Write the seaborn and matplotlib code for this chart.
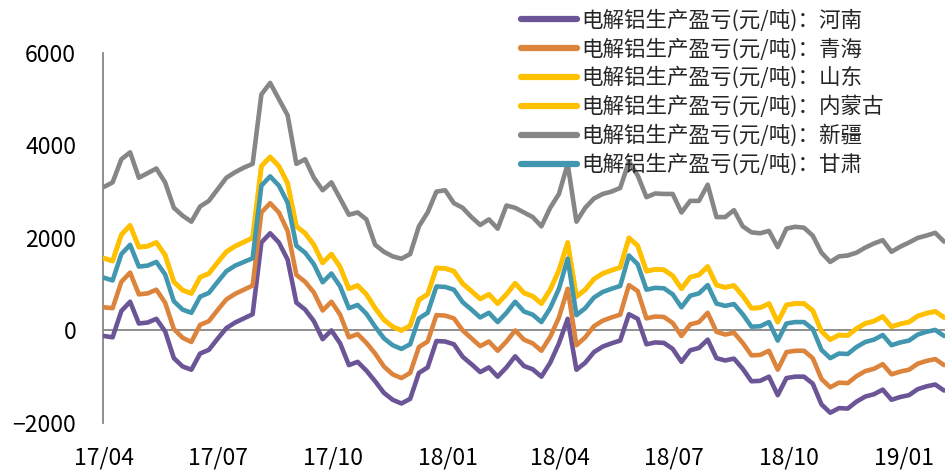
import pandas as pd
import matplotlib
matplotlib.use('Agg')
import matplotlib.pyplot as plt
import matplotlib.dates as mdates
import seaborn as sns

# weekly readings, starting 2017-04-01
start_date = '2017-04-01'

henan = [-120, -150, 420, 620, 150, 170, 250, -20, -600, -780,
         -850, -500, -420, -180, 50, 170, 260, 350, 1900, 2100,
         1900, 1530, 600, 450, 200, -190, 0, -280, -750, -680,
         -870, -1100, -1350, -1500, -1580, -1480, -920, -800, -230, -240,
         -300, -570, -730, -900, -800, -1000, -800, -560, -770, -840,
         -1000, -700, -280, 250, -850, -700, -470, -350, -280, -220,
         350, 250, -300, -260, -270, -400, -680, -430, -380, -200,
         -600, -650, -610, -830, -1100, -1090, -1000, -1400, -1030, -1000,
         -1000, -1150, -1600, -1780, -1680, -1690, -1540, -1430, -1380, -1280,
         -1500, -1440, -1400, -1270, -1210, -1170, -1300]

qinghai = [500, 480, 1050, 1250, 780, 800, 880, 600, 30, -160,
           -250, 120, 200, 440, 670, 790, 880, 970, 2550, 2750,
           2550, 2150, 1200, 1050, 820, 430, 620, 340, -150, -80,
           -270, -500, -780, -950, -1030, -920, -360, -240, 330, 320,
           260, 0, -170, -340, -240, -440, -240, 0, -200, -280,
           -440, -140, 280, 900, -320, -150, 90, 210, 280, 340,
           980, 850, 260, 300, 290, 160, -120, 130, 180, 380,
           -30, -90, -50, -270, -540, -530, -440, -850, -470, -440,
           -440, -600, -1050, -1230, -1130, -1140, -990, -880, -830, -730,
           -950, -890, -850, -720, -660, -620, -750]

shandong = [1560, 1500, 2070, 2270, 1800, 1820, 1900, 1630, 1050, 870,
            800, 1150, 1230, 1470, 1700, 1820, 1910, 2000, 3550, 3750,
            3550, 3180, 2250, 2100, 1850, 1460, 1650, 1370, 900, 970,
            780, 480, 230, 80, 0, 100, 660, 780, 1350, 1340,
            1280, 1010, 850, 680, 780, 580, 780, 1020, 810, 740,
            580, 880, 1300, 1900, 730, 880, 1110, 1230, 1300, 1360,
            2000, 1830, 1280, 1320, 1310, 1180, 900, 1150, 1200, 1380,
            980, 930, 970, 750, 480, 490, 580, 180, 550, 580,
            580, 430, -20, -200, -100, -110, 40, 150, 200, 300,
            80, 140, 180, 310, 370, 410, 280]

# 内蒙古 sits exactly under 山东 in the chart (same colour, same path)
neimenggu = list(shandong)

xinjiang = [3100, 3200, 3700, 3850, 3300, 3400, 3500, 3200, 2650, 2480,
            2350, 2680, 2800, 3050, 3300, 3420, 3520, 3600, 5100, 5350,
            5000, 4650, 3600, 3700, 3300, 3030, 3200, 2850, 2500, 2550,
            2400, 1850, 1700, 1600, 1550, 1650, 2250, 2550, 3000, 3030,
            2750, 2650, 2450, 2280, 2400, 2200, 2700, 2650, 2550, 2450,
            2250, 2650, 2950, 3600, 2350, 2650, 2850, 2950, 3000, 3080,
            3650, 3350, 2880, 2960, 2950, 2950, 2550, 2800, 2800, 3150,
            2450, 2450, 2600, 2250, 2120, 2100, 2150, 1800, 2200, 2240,
            2220, 2050, 1680, 1480, 1600, 1620, 1680, 1790, 1880, 1950,
            1700, 1810, 1900, 2000, 2050, 2110, 1920]

gansu = [1140, 1080, 1650, 1850, 1380, 1400, 1480, 1210, 630, 450,
         380, 730, 810, 1050, 1280, 1400, 1480, 1560, 3130, 3330,
         3130, 2760, 1830, 1680, 1430, 1040, 1230, 950, 480, 550,
         360, 80, -170, -320, -400, -300, 260, 380, 950, 940,
         880, 610, 450, 280, 380, 180, 380, 620, 410, 340,
         180, 480, 900, 1550, 330, 480, 710, 830, 900, 960,
         1620, 1430, 880, 920, 910, 780, 500, 750, 800, 980,
         580, 530, 570, 350, 80, 90, 180, -220, 150, 180,
         180, 30, -420, -600, -500, -510, -360, -250, -200, -100,
         -320, -260, -220, -90, -30, 10, -120]

prefix = '电解铝生产盈亏(元/吨)：'
regions = ['河南', '青海', '山东', '内蒙古', '新疆', '甘肃']
colors = ['#6B5596', '#DD843C', '#FFC000', '#FFC000', '#868686', '#4197B0']
tick_dates = ['2017-04-01', '2017-07-01', '2017-10-01', '2018-01-01',
              '2018-04-01', '2018-07-01', '2018-10-01', '2019-01-01']

sns.set_theme(style='white')
plt.rcParams['font.family'] = ['Noto Sans CJK SC', 'DejaVu Sans']

dates = pd.date_range(start_date, periods=len(henan), freq='7D')
wide = pd.DataFrame({
    '河南': henan, '青海': qinghai, '山东': shandong,
    '内蒙古': neimenggu, '新疆': xinjiang, '甘肃': gansu,
}, index=dates)
long = wide.reset_index().melt(id_vars='index', var_name='region', value_name='value')
long['region'] = prefix + long['region']

fig = plt.figure(figsize=(9.5, 4.72), dpi=100)
ax = fig.add_axes([0.108, 0.104, 0.887, 0.784])

ax.axhline(0, color='#868686', lw=1.3, zorder=1)
sns.lineplot(data=long, x='index', y='value', hue='region',
             hue_order=[prefix + r for r in regions],
             palette=colors, lw=3.3, ax=ax, legend=False, zorder=3)

ax.set_ylim(-2000, 6000)
ax.set_yticks([-2000, 0, 2000, 4000, 6000])
ax.set_xlim(pd.Timestamp('2017-03-31'), pd.Timestamp('2019-02-03'))
ax.set_xticks(pd.to_datetime(tick_dates))
ax.xaxis.set_major_formatter(mdates.DateFormatter('%y/%m'))
ax.set_xlabel('')
ax.set_ylabel('')
ax.tick_params(axis='both', length=0, labelsize=16.5, colors='black')
ax.tick_params(axis='y', pad=19)
ax.tick_params(axis='x', pad=17)

for s in ['top', 'right', 'bottom']:
    ax.spines[s].set_visible(False)
ax.spines['left'].set_color('#868686')
ax.spines['left'].set_linewidth(1.3)

handles = [plt.Line2D([], [], color=c, lw=4.5, solid_capstyle='round') for c in colors]
leg = fig.legend(handles, [prefix + r for r in regions],
                 loc='upper left', bbox_to_anchor=(0.535, 1.008),
                 frameon=False, fontsize=15.5, handlelength=2.6,
                 handletextpad=0.2, labelspacing=0.3, borderpad=0.1)

fig.savefig('out.png', dpi=100)
